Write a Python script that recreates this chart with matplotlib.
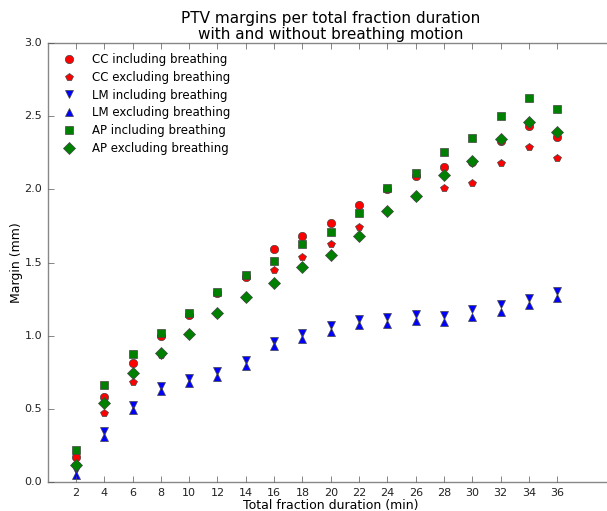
import matplotlib
matplotlib.use("Agg")
import matplotlib.pyplot as plt

plt.style.use("classic")
plt.rcParams["font.family"] = ["DejaVu Sans"]

durations = [2, 4, 6, 8, 10, 12, 14, 16, 18, 20, 22, 24, 26, 28, 30, 32, 34, 36]

cc_incl = [0.17, 0.58, 0.815, 1.00, 1.14, 1.29, 1.40, 1.59, 1.68, 1.77, 1.89, 2.00,
           2.09, 2.155, 2.19, 2.33, 2.435, 2.36]
cc_excl = [0.12, 0.47, 0.686, 0.87, 1.01, 1.15, 1.26, 1.45, 1.54, 1.626, 1.745, 1.85,
           1.95, 2.01, 2.046, 2.182, 2.287, 2.216]
lm_incl = [0.08, 0.35, 0.525, 0.655, 0.714, 0.76, 0.837, 0.965, 1.02, 1.072, 1.115, 1.128,
           1.147, 1.14, 1.181, 1.213, 1.259, 1.307]
lm_excl = [0.05, 0.31, 0.489, 0.62, 0.675, 0.72, 0.794, 0.926, 0.976, 1.028, 1.07, 1.08,
           1.097, 1.09, 1.126, 1.165, 1.211, 1.254]
ap_incl = [0.22, 0.66, 0.873, 1.02, 1.153, 1.30, 1.415, 1.513, 1.624, 1.708, 1.836, 2.007,
           2.114, 2.257, 2.353, 2.501, 2.622, 2.549]
ap_excl = [0.116, 0.54, 0.743, 0.88, 1.01, 1.157, 1.266, 1.362, 1.471, 1.553, 1.681, 1.854,
           1.957, 2.098, 2.196, 2.342, 2.462, 2.394]

series = [
    ("CC including breathing", cc_incl, "o", "r"),
    ("CC excluding breathing", cc_excl, "p", "r"),
    ("LM including breathing", lm_incl, "v", "b"),
    ("LM excluding breathing", lm_excl, "^", "b"),
    ("AP including breathing", ap_incl, "s", "g"),
    ("AP excluding breathing", ap_excl, "D", "g"),
]

fig = plt.figure(figsize=(6.07, 5.11), dpi=100, facecolor="white")
ax = fig.add_axes([0.0784, 0.0568, 0.933, 0.859])
ax.set_facecolor("white")

for label, vals, m, c in series:
    ms = 6.2 if m == "D" else 6
    ax.plot(durations, vals, linestyle="none", marker=m, color=c, markersize=ms,
            markeredgewidth=0.5, markeredgecolor="#444444", label=label)

ax.set_xlim(0, 40)
ax.set_ylim(0, 3.0)
ax.set_xticks(durations)
ax.set_yticks([0.0, 0.5, 1.0, 1.5, 2.0, 2.5, 3.0])
ax.tick_params(labelsize=8, direction="in", length=4, colors="#555555", labelcolor="#222222")
for sp in ax.spines.values():
    sp.set_color("#888888")
ax.set_xlabel("Total fraction duration (min)", fontsize=9, labelpad=1)
ax.set_ylabel("Margin (mm)", fontsize=9, labelpad=1)
ax.set_title("PTV margins per total fraction duration\nwith and without breathing motion",
             fontsize=11, pad=3, linespacing=1.05)

ax.legend(loc="upper left", frameon=False, numpoints=1, fontsize=8.5,
          handletextpad=0.9, labelspacing=0.4, borderaxespad=0.35, borderpad=0.5)

fig.savefig("out.png", dpi=100, facecolor="white")
